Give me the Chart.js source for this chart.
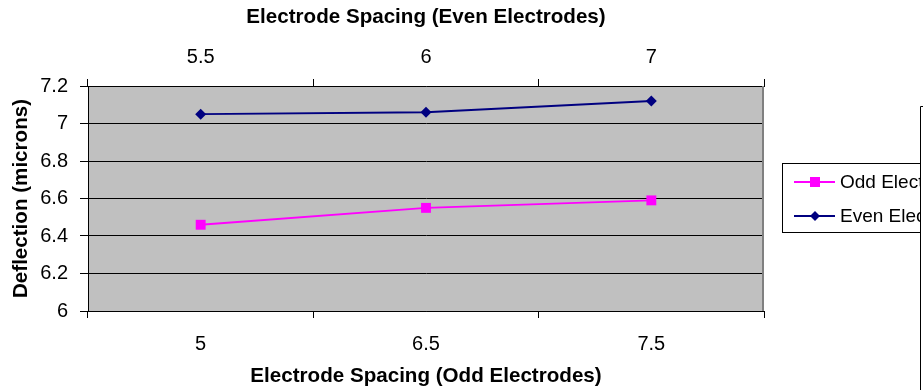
<!DOCTYPE html>
<html>
<head>
<meta charset="utf-8">
<script src="https://cdn.jsdelivr.net/npm/chart.js@4"></script>
<style>
html,body{margin:0;padding:0;background:#fff;}
#wrap{width:923px;height:390px;position:relative;}
</style>
</head>
<body>
<div id="wrap"><canvas id="c" width="923" height="390"></canvas></div>
<script>
// ---- data ----
const oddSpacing = ['5', '6.5', '7.5'];
const evenSpacing = ['5.5', '6', '7'];
const oddDeflection = [6.46, 6.55, 6.59];
const evenDeflection = [7.05, 7.06, 7.12];
const yTickValues = [6, 6.2, 6.4, 6.6, 6.8, 7, 7.2];
const seriesNames = ['Odd Electrodes', 'Even Electrodes'];
const titleTop = 'Electrode Spacing (Even Electrodes)';
const titleBottom = 'Electrode Spacing (Odd Electrodes)';
const titleY = 'Deflection (microns)';

const FONT = "'Liberation Sans', Arial, sans-serif";
const TICK_FONT = {family: FONT, size: 20};
const TITLE_FONT = {family: FONT, size: 20.6, weight: 'bold'};

const bgPlugin = {
  id: 'bg',
  beforeDraw(chart) {
    const {ctx, chartArea: a} = chart;
    ctx.save();
    ctx.fillStyle = '#C0C0C0';
    ctx.fillRect(a.left, a.top, a.right - a.left, a.bottom - a.top);
    ctx.restore();
  },
  afterDatasetsDraw(chart) {
    const {ctx, chartArea: a} = chart;
    ctx.save();
    ctx.strokeStyle = '#808080';
    ctx.lineWidth = 2;
    ctx.beginPath();
    ctx.moveTo(Math.round(a.right) - 1, a.top);
    ctx.lineTo(Math.round(a.right) - 1, a.bottom);
    ctx.stroke();
    ctx.restore();
  }
};

const legendPlugin = {
  id: 'customLegend',
  afterDraw(chart) {
    const {ctx} = chart;
    ctx.save();
    const bx = 782.5, by = 163.5, bw = 160, bh = 69;
    ctx.fillStyle = '#fff';
    ctx.fillRect(bx, by, bw, bh);
    ctx.strokeStyle = '#000';
    ctx.lineWidth = 1;
    ctx.strokeRect(bx, by, bw, bh);
    const rows = [182, 216];
    chart.data.datasets.forEach((ds, i) => {
      const y = rows[i];
      ctx.strokeStyle = ds.borderColor;
      ctx.lineWidth = 2;
      ctx.beginPath();
      ctx.moveTo(794, y);
      ctx.lineTo(835, y);
      ctx.stroke();
      ctx.fillStyle = ds.pointBackgroundColor;
      ctx.beginPath();
      if (ds.pointStyle === 'rect') {
        ctx.rect(815 - 5, y - 5, 10, 10);
      } else {
        ctx.moveTo(815 - 5, y); ctx.lineTo(815, y - 5); ctx.lineTo(815 + 5, y); ctx.lineTo(815, y + 5); ctx.closePath();
      }
      ctx.fill();
      ctx.fillStyle = '#000';
      ctx.font = '19px ' + FONT;
      ctx.textBaseline = 'middle';
      ctx.textAlign = 'left';
      ctx.fillText(ds.label, 840, y + 1);
    });
    ctx.fillStyle = '#fff';
    ctx.fillRect(920, 106, 10, 300);
    ctx.strokeStyle = '#000';
    ctx.lineWidth = 1;
    ctx.beginPath();
    ctx.moveTo(930, 106.5);
    ctx.lineTo(920.5, 106.5);
    ctx.lineTo(920.5, 400);
    ctx.stroke();
    ctx.restore();
  }
};

new Chart(document.getElementById('c'), {
  type: 'line',
  data: {
    datasets: [
      {
        label: seriesNames[0],
        data: oddDeflection,
        xAxisID: 'x',
        borderColor: '#FF00FF',
        backgroundColor: '#FF00FF',
        pointBackgroundColor: '#FF00FF',
        pointBorderColor: '#FF00FF',
        borderWidth: 2,
        pointStyle: 'rect',
        pointRadius: 7,
        pointBorderWidth: 0,
        tension: 0
      },
      {
        label: seriesNames[1],
        data: evenDeflection,
        xAxisID: 'x2',
        borderColor: '#000080',
        backgroundColor: '#000080',
        pointBackgroundColor: '#000080',
        pointBorderColor: '#000080',
        borderWidth: 2,
        pointStyle: 'rectRot',
        pointRadius: 5.5,
        pointBorderWidth: 0,
        tension: 0
      }
    ]
  },
  options: {
    responsive: false,
    animation: false,
    devicePixelRatio: 1,
    layout: {padding: {left: 0, right: 159, top: 0, bottom: 0}},
    plugins: {legend: {display: false}, tooltip: {enabled: false}},
    scales: {
      x: {
        type: 'category',
        labels: oddSpacing,
        position: 'bottom',
        offset: true,
        grid: {offset: true, drawOnChartArea: false, color: '#000', tickLength: 7, lineWidth: 1},
        border: {color: '#000', width: 1},
        ticks: {font: TICK_FONT, color: '#000', padding: 14, maxRotation: 0},
        title: {display: true, text: titleBottom, font: TITLE_FONT, color: '#000', padding: {top: 0, bottom: 1}},
        afterFit(s) { s.height = 79; }
      },
      x2: {
        type: 'category',
        labels: evenSpacing,
        position: 'top',
        offset: true,
        grid: {offset: true, drawOnChartArea: false, color: '#000', tickLength: 7, lineWidth: 1},
        border: {color: '#000', width: 1},
        ticks: {font: TICK_FONT, color: '#000', padding: 10, maxRotation: 0},
        title: {display: true, text: titleTop, font: TITLE_FONT, color: '#000', padding: {top: 5, bottom: 0}},
        afterFit(s) { s.height = 86; }
      },
      y: {
        type: 'linear',
        position: 'left',
        min: yTickValues[0],
        max: yTickValues[yTickValues.length - 1],
        afterBuildTicks(s) { s.ticks = yTickValues.map(v => ({value: v})); },
        grid: {
          color: (c) => (c.tick && c.tick.value === 7.2) ? '#808080' : '#000',
          tickColor: '#000',
          tickLength: 8,
          lineWidth: 1
        },
        border: {color: '#000', width: 1},
        ticks: {font: TICK_FONT, color: '#000', padding: 12, callback: (v) => String(v)},
        title: {display: true, text: titleY, font: TITLE_FONT, color: '#000', padding: {top: 9, bottom: 0}},
        afterFit(s) { s.width = 88; }
      }
    }
  },
  plugins: [bgPlugin, legendPlugin]
});
</script>
</body>
</html>
